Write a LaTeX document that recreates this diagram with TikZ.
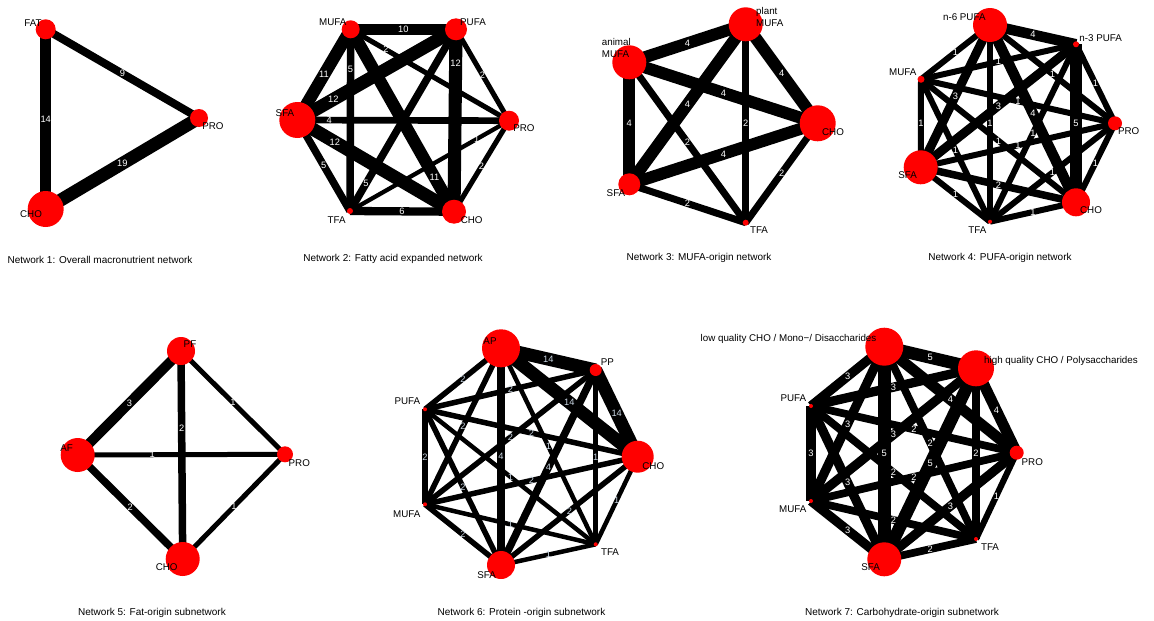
\documentclass[tikz,border=0pt]{standalone}
\usepackage{fontspec}
\setmainfont{Liberation Sans}
\pgfdeclarelayer{edges}
\pgfsetlayers{edges,main}
\definecolor{labblue}{HTML}{C9D6E3}
\def\elcol{white}
\tikzset{
 vtx/.style={circle, fill=red, draw=none, inner sep=0pt},
 edgeline/.style={draw=black},
 elabel/.style={text=\elcol, font=\fontsize{9.3}{10}\selectfont, inner sep=0pt},
 nlabel/.style={text=black, font=\fontsize{9.8}{12}\selectfont, inner sep=0pt},
 capt/.style={text=black, font=\fontsize{10}{12}\selectfont, inner sep=0pt},
}
\def\wfun#1{1}
\newcommand\ed[4][.5]{%
  \begin{pgfonlayer}{edges}
    \draw[edgeline, line width={(\wfun{#4})*1pt}] (#2.center) -- (#3.center);
  \end{pgfonlayer}
  \path (#2.center) -- node[elabel, pos=#1] {#4} (#3.center);
}
\begin{document}
\begin{tikzpicture}[x=1pt,y=-1pt]
\useasboundingbox (0,0) rectangle (1154,621);
% ---------------- Network 1
\def\wfun#1{3.5+0.5*#1}
\node[vtx,minimum size=20pt] (afat) at (45.7,29.3) {};
\node[vtx,minimum size=18pt] (apro) at (199,118) {};
\node[vtx,minimum size=36pt] (acho) at (45.7,209) {};
\ed{afat}{apro}{9}
\ed{afat}{acho}{14}
\ed{acho}{apro}{19}
\node[nlabel] (afatL) at (33,23) {FAT};
\node[nlabel] (aproL) at (213,126) {PRO};
\node[nlabel] (achoL) at (31,214) {CHO};
\node[capt] (acap) at (100,260) {Network 1: Overall macronutrient network};
% ---------------- Network 2
\def\wfun#1{3.5+0.8*#1}
\node[vtx,minimum size=18pt] (bmufa) at (350.7,29.3) {};
\node[vtx,minimum size=22pt] (bpufa) at (456,29.3) {};
\node[vtx,minimum size=36pt] (bsfa) at (297.3,120) {};
\node[vtx,minimum size=20pt] (bpro) at (509,120.7) {};
\node[vtx,minimum size=6pt] (btfa) at (350,211) {};
\node[vtx,minimum size=24pt] (bcho) at (454,211.7) {};
\ed{bmufa}{bpufa}{10}
\ed{bmufa}{bsfa}{11}
\ed[.22]{bmufa}{btfa}{5}
\ed[.19]{bcho}{bmufa}{11}
\ed[.223]{bmufa}{bpro}{2}
\ed[.227]{bsfa}{bpufa}{12}
\ed[.186]{bpufa}{bcho}{12}
\ed{bpufa}{bpro}{2}
\ed[.151]{btfa}{bpufa}{5}
\ed[.151]{bsfa}{bpro}{4}
\ed[.24]{bsfa}{bcho}{12}
\ed{bsfa}{btfa}{5}
\ed{btfa}{bcho}{6}
\ed[.203]{bpro}{btfa}{1}
\ed{bcho}{bpro}{2}
\node[nlabel] (bmufaL) at (332.7,22.3) {MUFA};
\node[nlabel] (bpufaL) at (473,22.3) {PUFA};
\node[nlabel] (bsfaL) at (285,113) {SFA};
\node[nlabel] (bproL) at (524,128) {PRO};
\node[nlabel] (btfaL) at (336.7,220) {TFA};
\node[nlabel] (bchoL) at (471.7,220) {CHO};
\node[capt] (bcap) at (393,259) {Network 2: Fatty acid expanded network};
% ---------------- Network 3
\def\wfun#1{2+2.5*#1}
\node[vtx,minimum size=34pt] (cplant) at (745.7,24.3) {};
\node[vtx,minimum size=34pt] (canimal) at (629.3,62.3) {};
\node[vtx,minimum size=36pt] (ccho) at (817.7,123.3) {};
\node[vtx,minimum size=22pt] (csfa) at (629.3,184.3) {};
\node[vtx,minimum size=6pt] (ctfa) at (745.7,222.7) {};
\ed{canimal}{cplant}{4}
\ed{cplant}{ccho}{4}
\ed{canimal}{ccho}{4}
\ed{canimal}{csfa}{4}
\ed{cplant}{csfa}{4}
\ed{canimal}{ctfa}{2}
\ed{cplant}{ctfa}{2}
\ed{csfa}{ccho}{4}
\ed{csfa}{ctfa}{2}
\ed{ccho}{ctfa}{2}
\node[nlabel, anchor=west, align=left] (cplantL) at (756,17) {plant\\MUFA};
\node[nlabel, anchor=west, align=left] (canimalL) at (601.7,47.5) {animal\\MUFA};
\node[nlabel] (cchoL) at (833,131.7) {CHO};
\node[nlabel] (csfaL) at (616,192.7) {SFA};
\node[nlabel] (ctfaL) at (759,230) {TFA};
\node[capt] (ccap) at (699,258) {Network 3: MUFA-origin network};
% ---------------- Network 4
\def\wfun#1{4.5+1.5*#1}
\node[vtx,minimum size=34pt] (dn6) at (990,25) {};
\node[vtx,minimum size=6pt] (dn3) at (1076,44.3) {};
\node[vtx,minimum size=7pt] (dmufa) at (921,79.3) {};
\node[vtx,minimum size=14pt] (dpro) at (1115,123.3) {};
\node[vtx,minimum size=34pt] (dsfa) at (920.7,167.3) {};
\node[vtx,minimum size=28pt] (dcho) at (1076,202.3) {};
\node[vtx,minimum size=4pt] (dtfa) at (990,221.7) {};
\ed{dn6}{dn3}{4}
\ed{dn6}{dmufa}{1}
\ed{dmufa}{dn3}{1}
\ed{dn6}{dpro}{1}
\ed{dn3}{dpro}{1}
\ed{dn6}{dsfa}{3}
\ed{dn3}{dsfa}{3}
\ed{dmufa}{dpro}{1}
\ed{dn6}{dcho}{4}
\ed{dn3}{dcho}{5}
\ed{dn6}{dtfa}{1}
\ed{dmufa}{dsfa}{1}
\ed{dn3}{dtfa}{1}
\ed{dmufa}{dcho}{1}
\ed{dsfa}{dpro}{1}
\ed{dmufa}{dtfa}{1}
\ed{dpro}{dtfa}{1}
\ed{dpro}{dcho}{1}
\ed{dsfa}{dcho}{2}
\ed{dsfa}{dtfa}{1}
\ed{dtfa}{dcho}{1}
\node[nlabel] (dn6L) at (964.3,17.3) {n-6 PUFA};
\node[nlabel] (dn3L) at (1100.7,38.3) {n-3 PUFA};
\node[nlabel] (dmufaL) at (902.7,71.7) {MUFA};
\node[nlabel] (dproL) at (1128.7,131) {PRO};
\node[nlabel] (dsfaL) at (907.7,175) {SFA};
\node[nlabel] (dchoL) at (1091,210) {CHO};
\node[nlabel] (dtfaL) at (977.3,230) {TFA};
\node[capt] (dcap) at (1000,258) {Network 4: PUFA-origin network};
% ---------------- Network 5
\def\wfun#1{2.5+2.5*#1}
\node[vtx,minimum size=28pt] (epf) at (181,351) {};
\node[vtx,minimum size=34pt] (eaf) at (77.7,455) {};
\node[vtx,minimum size=16pt] (epro) at (285,454.3) {};
\node[vtx,minimum size=34pt] (echo) at (182.7,559) {};
\ed{epf}{eaf}{3}
\ed{epf}{epro}{1}
\ed[.37]{epf}{echo}{2}
\ed[.36]{eaf}{epro}{1}
\ed{eaf}{echo}{2}
\ed{epro}{echo}{1}
\node[nlabel] (epfL) at (190,344.3) {PF};
\node[nlabel] (eafL) at (66.7,447.7) {AF};
\node[nlabel] (eproL) at (299.3,463.3) {PRO};
\node[nlabel] (echoL) at (166.7,566.7) {CHO};
\node[capt] (ecap) at (152,613) {Network 5: Fat-origin subnetwork};
% ---------------- Network 6
\def\wfun#1{min(3.5+#1,13)}
\def\elcol{labblue}
\node[vtx,minimum size=38pt] (fap) at (501,348.3) {};
\node[vtx,minimum size=12pt] (fpp) at (595.7,370) {};
\node[vtx,minimum size=32pt] (fcho) at (637.7,456.7) {};
\node[vtx,minimum size=4pt] (ftfa) at (595.7,544.3) {};
\node[vtx,minimum size=28pt] (fsfa) at (501,565) {};
\node[vtx,minimum size=4pt] (fmufa) at (425,504.3) {};
\node[vtx,minimum size=4pt] (fpufa) at (425,409.3) {};
\ed{fap}{fpp}{14}
\ed{fap}{fcho}{14}
\ed{fpp}{fcho}{14}
\ed{fap}{fpufa}{2}
\ed{fpufa}{fpp}{2}
\ed{fap}{fmufa}{2}
\ed{fpp}{fmufa}{2}
\ed{fpufa}{fcho}{2}
\ed{fap}{ftfa}{1}
\ed{fpp}{ftfa}{1}
\ed{fap}{fsfa}{4}
\ed{fpufa}{fmufa}{2}
\ed{fpp}{fsfa}{4}
\ed{fpufa}{ftfa}{1}
\ed{fmufa}{fcho}{2}
\ed{fpufa}{fsfa}{2}
\ed{fcho}{fsfa}{2}
\ed{fcho}{ftfa}{1}
\ed{fmufa}{ftfa}{1}
\ed{fmufa}{fsfa}{2}
\ed{fsfa}{ftfa}{1}
\node[nlabel] (fapL) at (490,340.7) {AP};
\node[nlabel] (fppL) at (607.3,362.3) {PP};
\node[nlabel] (fchoL) at (653.3,465.7) {CHO};
\node[nlabel] (ftfaL) at (610,552.3) {TFA};
\node[nlabel] (fsfaL) at (486.7,575) {SFA};
\node[nlabel] (fmufaL) at (406.7,514) {MUFA};
\node[nlabel] (fpufaL) at (407.3,401) {PUFA};
\node[capt] (fcap) at (521.5,613) {Network 6: Protein -origin subnetwork};
% ---------------- Network 7
\def\wfun#1{4.5+1.6*#1}
\def\elcol{white}
\node[vtx,minimum size=38pt] (glq) at (884.3,346.7) {};
\node[vtx,minimum size=36pt] (ghq) at (976,368.3) {};
\node[vtx,minimum size=14pt] (gpro) at (1016.7,452.7) {};
\node[vtx,minimum size=4pt] (gtfa) at (976,539) {};
\node[vtx,minimum size=34pt] (gsfa) at (884.3,559.3) {};
\node[vtx,minimum size=4pt] (gmufa) at (811,501) {};
\node[vtx,minimum size=4pt] (gpufa) at (811,406) {};
\ed{glq}{ghq}{5}
\ed{glq}{gpufa}{3}
\ed{gpufa}{ghq}{3}
\ed{glq}{gpro}{4}
\ed{ghq}{gpro}{4}
\ed{glq}{gmufa}{3}
\ed{ghq}{gmufa}{3}
\ed{gpufa}{gpro}{2}
\ed{glq}{gtfa}{2}
\ed{ghq}{gtfa}{2}
\ed{glq}{gsfa}{5}
\ed{gpufa}{gmufa}{3}
\ed{ghq}{gsfa}{5}
\ed{gpufa}{gtfa}{2}
\ed{gmufa}{gpro}{2}
\ed{gpufa}{gsfa}{3}
\ed{gpro}{gsfa}{3}
\ed{gpro}{gtfa}{1}
\ed{gmufa}{gtfa}{2}
\ed{gmufa}{gsfa}{3}
\ed{gsfa}{gtfa}{2}
\node[nlabel] (glqL) at (788.5,339.3) {low quality CHO / Mono−/ Disaccharides};
\node[nlabel] (ghqL) at (1061,360.7) {high quality CHO / Polysaccharides};
\node[nlabel] (gproL) at (1032.3,461.7) {PRO};
\node[nlabel] (gtfaL) at (990,546.7) {TFA};
\node[nlabel] (gsfaL) at (870.7,567.3) {SFA};
\node[nlabel] (gmufaL) at (792.7,509.3) {MUFA};
\node[nlabel] (gpufaL) at (793.3,398.3) {PUFA};
\node[capt] (gcap) at (902,613) {Network 7: Carbohydrate-origin subnetwork};
\end{tikzpicture}
\end{document}
